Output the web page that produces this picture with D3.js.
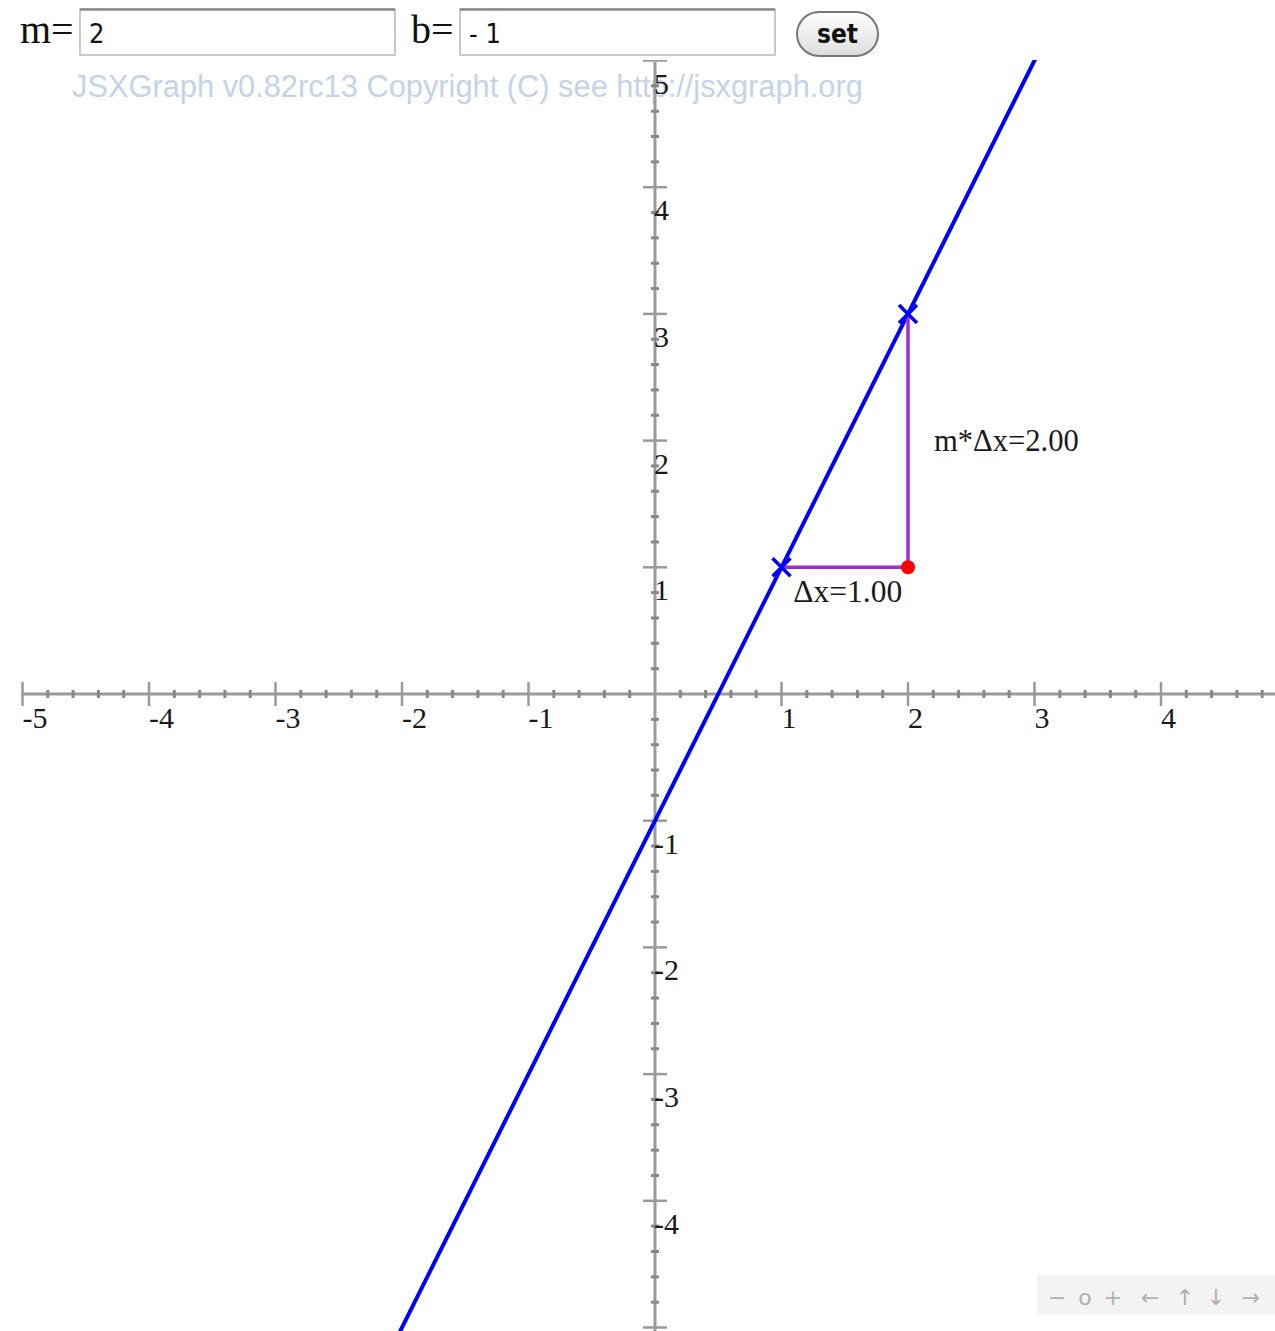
<!DOCTYPE html>
<html><head><meta charset="utf-8">
<script src="https://cdn.jsdelivr.net/npm/d3@7"></script>
<style>html,body{margin:0;padding:0;background:#fff;}svg{display:block;}</style>
</head><body>
<svg id="chart" width="1275" height="1331"></svg>
<script>
// ---- data ----
const slopeM = 2;
const interceptB = -1;
const xTickValues = [-5, -4, -3, -2, -1, 1, 2, 3, 4];
const yTickValues = [5, 4, 3, 2, 1, -1, -2, -3, -4];
const crossPoints = [[1, 1], [2, 3]];
const cornerPoint = [2, 1];
const deltaX = 1.00;
const deltaXLabel = "Δx=1.00";
const riseLabel = "m*Δx=2.00";
const navItems = ["−", "o", "+", "←", "↑", "↓", "→"];
const copyright = "JSXGraph v0.82rc13 Copyright (C) see http://jsxgraph.org";

const svg = d3.select("#chart");
const x = d3.scaleLinear().domain([-5, 5]).range([22.5, 1287.5]);
const y = d3.scaleLinear().domain([-5, 5]).range([1327.5, 60.5]);
const board = {x0: 20, x1: 1275, y0: 60, y1: 1331};

// ---- form (drawn) ----
const serif = "'Liberation Serif','Times New Roman',serif";
const sans = "'Liberation Sans',Arial,sans-serif";
svg.append("text").attr("x", 20).attr("y", 43).attr("font-family", serif).attr("font-size", 40).attr("fill", "#111").text("m=");
svg.append("text").attr("x", 411).attr("y", 43).attr("font-family", serif).attr("font-size", 40).attr("fill", "#111").text("b=");
function inputBox(x0, val) {
  svg.append("rect").attr("x", x0).attr("y", 9).attr("width", 315).attr("height", 46)
    .attr("fill", "#fff").attr("stroke", "#b8b8b8").attr("stroke-width", 1.5);
  svg.append("line").attr("x1", x0).attr("x2", x0 + 315).attr("y1", 9.5).attr("y2", 9.5).attr("stroke", "#8a8a8a").attr("stroke-width", 2.5);
  svg.append("text").attr("x", x0 + 9).attr("y", 43).attr("font-family", "'DejaVu Sans Condensed','DejaVu Sans',sans-serif").attr("font-size", 27).attr("fill", "#111").text(val);
}
inputBox(80, String(slopeM));
inputBox(460, "- " + Math.abs(interceptB));
const grad = svg.append("defs").append("linearGradient").attr("id", "btn").attr("x1", 0).attr("x2", 0).attr("y1", 0).attr("y2", 1);
grad.append("stop").attr("offset", "0").attr("stop-color", "#ffffff");
grad.append("stop").attr("offset", "1").attr("stop-color", "#dcdcdc");
svg.append("rect").attr("x", 797).attr("y", 12).attr("width", 81).attr("height", 44).attr("rx", 22)
  .attr("fill", "url(#btn)").attr("stroke", "#777").attr("stroke-width", 2);
svg.append("text").attr("x", 837.5).attr("y", 43).attr("text-anchor", "middle").attr("font-family", "'DejaVu Sans Condensed','DejaVu Sans',sans-serif").attr("font-size", 26).attr("font-weight", 600).attr("fill", "#111").text("set");

// ---- board ----
svg.append("defs").append("clipPath").attr("id", "clip").append("rect")
  .attr("x", board.x0).attr("y", board.y0).attr("width", board.x1 - board.x0).attr("height", board.y1 - board.y0);
const g = svg.append("g").attr("clip-path", "url(#clip)");

g.append("text").attr("x", 72).attr("y", 97).attr("font-family", sans).attr("font-size", 30.8)
  .attr("fill", "#c4d3ea").text(copyright);

const axisColor = "#9a9a9a";
const X0 = x(0), Y0 = y(0);
// axes lines
g.append("line").attr("x1", board.x0 + 2).attr("x2", board.x1).attr("y1", Y0).attr("y2", Y0).attr("stroke", axisColor).attr("stroke-width", 3);
g.append("line").attr("x1", X0).attr("x2", X0).attr("y1", board.y0 + 2).attr("y2", board.y1).attr("stroke", axisColor).attr("stroke-width", 3);

// minor ticks
const minorX = d3.range(-25, 25).map(i => i / 5).filter(v => Math.abs(v - Math.round(v)) > 1e-6);
const minorY = minorX;
g.selectAll(".mx").data(minorX).join("line").attr("x1", d => x(d)).attr("x2", d => x(d))
  .attr("y1", Y0 - 4).attr("y2", Y0 + 4).attr("stroke", "#888").attr("stroke-width", 3);
g.selectAll(".my").data(minorY).join("line").attr("y1", d => y(d)).attr("y2", d => y(d))
  .attr("x1", X0 - 4).attr("x2", X0 + 4).attr("stroke", "#888").attr("stroke-width", 3);
// major ticks
const majorX = d3.range(-5, 5).filter(v => v !== 0);
const majorY = d3.range(-5, 6).filter(v => v !== 0);
g.selectAll(".Mx").data(majorX).join("line").attr("x1", d => x(d)).attr("x2", d => x(d))
  .attr("y1", Y0 - 12).attr("y2", Y0 + 12).attr("stroke", axisColor).attr("stroke-width", 2.5);
g.selectAll(".My").data(majorY).join("line").attr("y1", d => y(d)).attr("y2", d => y(d))
  .attr("x1", X0 - 12).attr("x2", X0 + 12).attr("stroke", axisColor).attr("stroke-width", 2.5);
// tick labels
g.selectAll(".lx").data(xTickValues).join("text").attr("x", d => x(d)).attr("y", Y0 + 34)
  .attr("font-family", serif).attr("font-size", 30).attr("fill", "#1a1a1a").text(d => d);
g.selectAll(".ly").data(yTickValues).join("text").attr("x", X0 - 1).attr("y", d => y(d) + 33)
  .attr("font-family", serif).attr("font-size", 30).attr("fill", "#1a1a1a").text(d => d);

// line y = m x + b
const lineXs = [-5, 5];
g.append("line").attr("x1", x(lineXs[0])).attr("y1", y(slopeM * lineXs[0] + interceptB))
  .attr("x2", x(lineXs[1])).attr("y2", y(slopeM * lineXs[1] + interceptB))
  .attr("stroke", "#0000ff").attr("stroke-width", 4);

// slope triangle
const purple = "#a12ccc";
g.append("line").attr("x1", x(crossPoints[0][0])).attr("y1", y(crossPoints[0][1]))
  .attr("x2", x(cornerPoint[0])).attr("y2", y(cornerPoint[1])).attr("stroke", purple).attr("stroke-width", 3.5);
g.append("line").attr("x1", x(cornerPoint[0])).attr("y1", y(cornerPoint[1]))
  .attr("x2", x(crossPoints[1][0])).attr("y2", y(crossPoints[1][1])).attr("stroke", purple).attr("stroke-width", 3.5);

// cross points
crossPoints.forEach(p => {
  const cx = x(p[0]), cy = y(p[1]), s = 9;
  g.append("path").attr("d", `M${cx - s},${cy - s}L${cx + s},${cy + s}M${cx - s},${cy + s}L${cx + s},${cy - s}`)
    .attr("stroke", "#0000ff").attr("stroke-width", 3.5).attr("fill", "none");
});
g.append("circle").attr("cx", x(cornerPoint[0])).attr("cy", y(cornerPoint[1])).attr("r", 7).attr("fill", "#ff0000");

// labels
g.append("text").attr("x", x(crossPoints[0][0] + deltaX / 2) + 3).attr("y", y(cornerPoint[1]) + 35)
  .attr("text-anchor", "middle").attr("font-family", serif).attr("font-size", 31.5).attr("fill", "#1a1a1a").text(deltaXLabel);
g.append("text").attr("x", x(cornerPoint[0]) + 26).attr("y", y((cornerPoint[1] + crossPoints[1][1]) / 2) + 10)
  .attr("font-family", serif).attr("font-size", 30.6).attr("fill", "#1a1a1a").text(riseLabel);

// navigation bar
svg.append("rect").attr("x", 1037).attr("y", 1275).attr("width", 238).attr("height", 40).attr("fill", "#f3f3f3");
const navX = [1057, 1085, 1113, 1150, 1185, 1216, 1251];
svg.selectAll(".nav").data(navItems).join("text").attr("x", (d, i) => navX[i]).attr("y", 1305)
  .attr("text-anchor", "middle").attr("font-family", "'DejaVu Sans',sans-serif").attr("font-size", 22).attr("fill", "#b0b0b0").text(d => d);
</script>
</body></html>
